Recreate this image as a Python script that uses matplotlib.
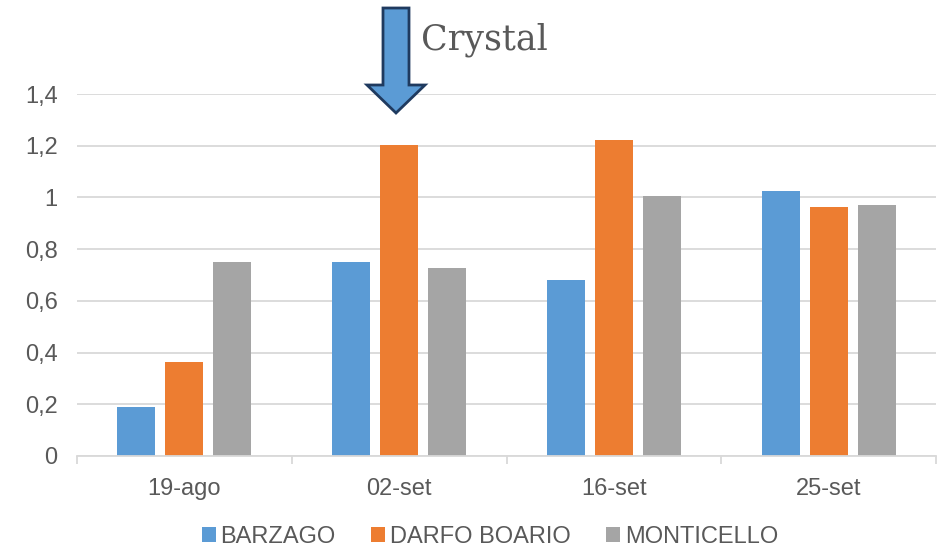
import matplotlib.pyplot as plt
import numpy as np
from matplotlib.patches import Polygon

dates = ["19-ago", "02-set", "16-set", "25-set"]
barzago = [0.188, 0.751, 0.679, 1.025]
darfo_boario = [0.365, 1.203, 1.222, 0.964]
monticello = [0.751, 0.727, 1.007, 0.971]

series = [("BARZAGO", barzago, "#5B9BD5"),
          ("DARFO BOARIO", darfo_boario, "#ED7D31"),
          ("MONTICELLO", monticello, "#A5A5A5")]

plt.rcParams['font.family'] = ['Liberation Sans', 'DejaVu Sans']
text_col = "#595959"
grid_col = "#D9D9D9"
fs = 17

W, H = 946, 550
fig = plt.figure(figsize=(W / 100, H / 100), dpi=100)
ax = fig.add_axes([77 / W, 1 - 456 / H, (936 - 77) / W, (456 - 94) / H])

x = np.arange(len(dates))
width = 0.177
step = 0.223
for i, (name, vals, col) in enumerate(series):
    ax.bar(x + (i - 1) * step, vals, width, color=col, label=name, zorder=3)

ax.set_xlim(-0.5, len(dates) - 0.5)
ax.set_ylim(0, 1.4)
yticks = [0, 0.2, 0.4, 0.6, 0.8, 1, 1.2, 1.4]
ylabels = ["0", "0,2", "0,4", "0,6", "0,8", "1", "1,2", "1,4"]
ax.set_yticks(yticks)
ax.set_yticklabels(ylabels)
ax.yaxis.grid(True, color=grid_col, linewidth=1.3, zorder=0)
ax.tick_params(axis="y", length=0, pad=14, labelsize=fs, labelcolor=text_col)

ax.set_xticks(x)
ax.set_xticklabels(dates)
ax.set_xticks(np.arange(-0.5, len(dates), 1), minor=True)
ax.tick_params(axis="x", which="major", length=0, pad=16, labelsize=fs, labelcolor=text_col)
ax.tick_params(axis="x", which="minor", length=6, color=grid_col, width=1.3)

for s in ["top", "right", "left"]:
    ax.spines[s].set_visible(False)
ax.spines["bottom"].set_color(grid_col)
ax.spines["bottom"].set_linewidth(1.3)
ax.spines["bottom"].set_zorder(4)

leg = fig.legend(loc="center", bbox_to_anchor=(490 / W, 1 - 537 / H), ncol=3, frameon=False,
                 fontsize=fs, handlelength=0.6, handleheight=0.6, handletextpad=0.2,
                 columnspacing=1.5)
for t in leg.get_texts():
    t.set_color(text_col)

# downward arrow pointing at the second sampling date
arrow_px = [(383, 8), (409, 8), (409, 85), (425, 85), (396, 113),
            (367, 85), (383, 85)]
arrow = Polygon([(px / W, 1 - py / H) for px, py in arrow_px], closed=True,
                transform=fig.transFigure, facecolor="#5B9BD5", edgecolor="#1F3A5F",
                linewidth=2)
fig.patches.append(arrow)

fig.text(421 / W, 1 - 40 / H, "Crystal", fontsize=25, color=text_col,
         family=["DejaVu Serif"], va="center", ha="left")

fig.savefig("out.png", dpi=100)
